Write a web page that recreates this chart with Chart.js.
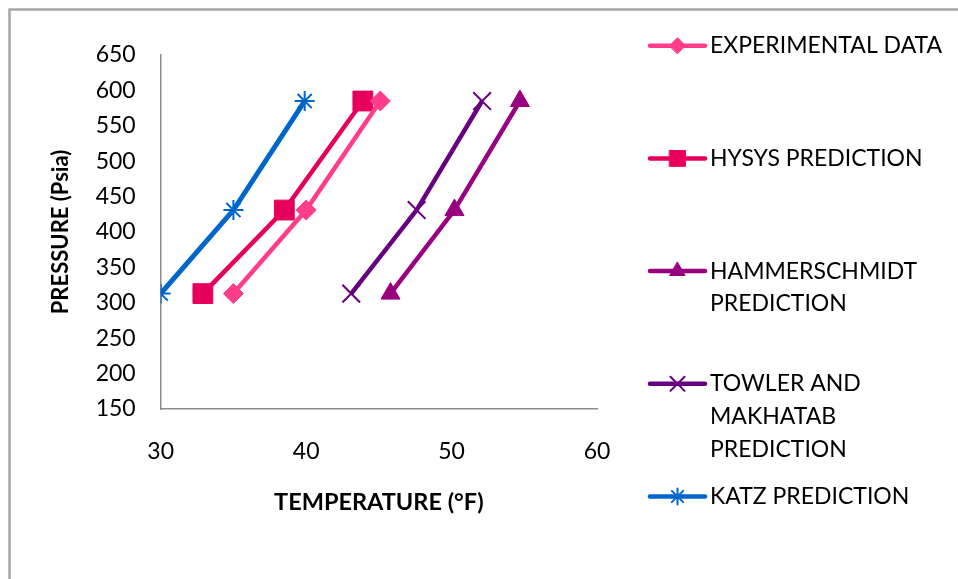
<!DOCTYPE html>
<html>
<head>
<meta charset="utf-8">
<title>Hydrate formation</title>
<script src="https://cdn.jsdelivr.net/npm/chart.js@4.4.1/dist/chart.umd.min.js"></script>
<style>
  html, body { margin: 0; padding: 0; background: #fff; }
  canvas { display: block; }
</style>
</head>
<body>
<canvas id="chart" width="958" height="579"></canvas>
<script>
// pressure points (psia), same for every series
const pressure = [313, 431, 585];

// hydrate temperatures (°F)
const experimental = [35, 40, 45.1];
const hysys = [32.9, 38.5, 43.9];
const hammerschmidt = [45.8, 50.2, 54.7];
const towler = [43.1, 47.6, 52.1];
const katz = [30, 35, 39.9];

const seriesNames = [
  "EXPERIMENTAL DATA",
  "HYSYS PREDICTION",
  "HAMMERSCHMIDT PREDICTION",
  "TOWLER AND MAKHATAB PREDICTION",
  "KATZ PREDICTION"
];
// how the legend wraps each name
const legendLines = [
  ["EXPERIMENTAL DATA"],
  ["HYSYS PREDICTION"],
  ["HAMMERSCHMIDT", "PREDICTION"],
  ["TOWLER AND", "MAKHATAB", "PREDICTION"],
  ["KATZ PREDICTION"]
];

const xTitle = "TEMPERATURE (°F)";
const yTitle = "PRESSURE (Psia)";

const toPoints = (temps) => temps.map((t, i) => ({ x: t, y: pressure[i] }));

const makeSet = (label, temps, color, style, radius, width, ptBorder) => ({
  label: label,
  data: toPoints(temps),
  borderColor: color,
  backgroundColor: color,
  borderWidth: width,
  pointStyle: style,
  pointRadius: radius,
  pointHoverRadius: radius,
  pointBorderWidth: ptBorder,
  pointBackgroundColor: color,
  pointBorderColor: color,
  tension: 0,
  fill: false
});

const datasets = [
  makeSet(seriesNames[0], experimental, "#ff3d8b", "rectRot", 10, 4.5, 1),
  makeSet(seriesNames[1], hysys, "#e6005c", "rect", 14, 4.5, 1),
  makeSet(seriesNames[2], hammerschmidt, "#990080", "triangle", 11, 4.5, 1),
  makeSet(seriesNames[3], towler, "#660080", "crossRot", 12.5, 4.5, 2),
  makeSet(seriesNames[4], katz, "#0066cc", "star", 10, 5, 2)
];

const fontFamily = "Lato, 'Open Sans', sans-serif";

// grey frame around the whole picture
const framePlugin = {
  id: "frame",
  beforeDraw(chart) {
    const ctx = chart.ctx;
    ctx.save();
    ctx.fillStyle = "#fff";
    ctx.fillRect(0, 0, chart.width, chart.height);
    ctx.strokeStyle = "#a6a6a6";
    ctx.lineWidth = 2.5;
    ctx.strokeRect(9.5, 9.5, chart.width + 50, chart.height + 50);
    ctx.restore();
  }
};

// legend on the right, wrapped names, evenly spaced
const sideLegend = {
  id: "sideLegend",
  afterDraw(chart) {
    const ctx = chart.ctx;
    const x0 = 650, x1 = 705, textX = 710;
    const top = 45.7, step = 112.7, lineGap = 32.7;
    ctx.save();
    chart.data.datasets.forEach((ds, i) => {
      const y = top + i * step;
      ctx.strokeStyle = ds.borderColor;
      ctx.lineWidth = 4.5;
      ctx.lineCap = "round";
      ctx.beginPath();
      ctx.moveTo(x0, y);
      ctx.lineTo(x1, y);
      ctx.stroke();
      ctx.fillStyle = ds.pointBackgroundColor;
      ctx.strokeStyle = ds.pointBorderColor;
      ctx.lineWidth = ds.pointBorderWidth;
      Chart.helpers.drawPoint(ctx, {
        pointStyle: ds.pointStyle,
        radius: ds.pointRadius * 0.8,
        rotation: 0,
        borderWidth: ds.pointBorderWidth
      }, (x0 + x1) / 2, y);
      ctx.fillStyle = "#000";
      ctx.font = "23px " + fontFamily;
      ctx.textBaseline = "middle";
      ctx.textAlign = "left";
      legendLines[i].forEach((line, k) => {
        ctx.fillText(line, textX, y + k * lineGap);
      });
    });
    ctx.restore();
  }
};

new Chart(document.getElementById("chart"), {
  type: "line",
  data: { datasets: datasets },
  plugins: [framePlugin, sideLegend],
  options: {
    responsive: false,
    animation: false,
    layout: { padding: { left: 0, right: 361, top: 55, bottom: 0 } },
    plugins: {
      legend: { display: false },
      tooltip: { enabled: false },
      title: { display: false }
    },
    scales: {
      x: {
        type: "linear",
        min: 30,
        max: 60,
        afterFit: (scale) => { scale.height = 170; },
        ticks: { stepSize: 10, padding: 29, color: "#000", font: { family: fontFamily, size: 23 } },
        grid: { display: false, drawTicks: false },
        border: { display: true, color: "#8c8c8c", width: 1.5 },
        title: {
          display: true,
          text: xTitle,
          color: "#000",
          padding: { top: 0, bottom: 62 },
          font: { family: fontFamily, size: 23.5, weight: "bold" }
        }
      },
      y: {
        type: "linear",
        min: 150,
        max: 650,
        afterFit: (scale) => { scale.width = 160.7; },
        ticks: { stepSize: 50, padding: 25, color: "#000", font: { family: fontFamily, size: 23 } },
        grid: { display: false, drawTicks: false },
        border: { display: true, color: "#8c8c8c", width: 1.5 },
        title: {
          display: true,
          text: yTitle,
          color: "#000",
          padding: { top: 48, bottom: 0 },
          font: { family: fontFamily, size: 22, weight: "bold" }
        }
      }
    }
  }
});
</script>
</body>
</html>
